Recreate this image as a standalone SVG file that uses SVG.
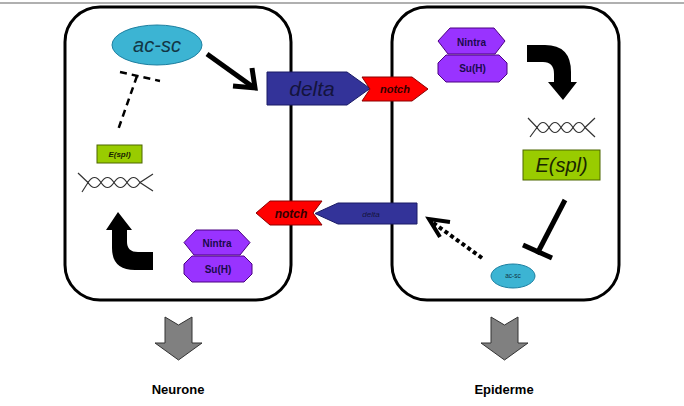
<svg xmlns="http://www.w3.org/2000/svg" width="684" height="406" viewBox="0 0 684 406">
<defs>
<style>
.cell{fill:#fff;stroke:#000;stroke-width:3}
.t{font-family:"Liberation Sans",Arial,sans-serif;text-anchor:middle}
.it{font-style:italic}
.b{font-weight:bold}
.acsc{fill:#3cb4d3;stroke:#1d7fa0;stroke-width:1}
.delta{fill:#333399;stroke:#1a1a66;stroke-width:1}
.notch{fill:#ff0000;stroke:#8b0000;stroke-width:1}
.prot{fill:#9933ff;stroke:#4b0082;stroke-width:1}
.espl{fill:#99cc00;stroke:#4d6600;stroke-width:1}
.dna{fill:none;stroke:#333;stroke-width:1.2}
.curv{fill:#000}
.grey{fill:#808080;stroke:#333;stroke-width:1}
</style>
</defs>
<rect width="684" height="406" fill="#fff"/>
<line x1="0" y1="3" x2="684" y2="3" stroke="#b0b0b0" stroke-width="2"/>

<g id="cell-neurone"><rect class="cell" x="65" y="7" width="226" height="293" rx="35" ry="35"/></g>
<g id="cell-epiderme"><rect class="cell" x="392" y="7" width="227" height="293" rx="35" ry="35"/></g>

<g id="connectors">
<line x1="207" y1="54" x2="253" y2="87" stroke="#000" stroke-width="5"/>
<path d="M233,86 L255,88 L252,68" fill="none" stroke="#000" stroke-width="5" stroke-linejoin="miter"/>
<line x1="120" y1="72" x2="160" y2="81" stroke="#000" stroke-width="2.5" stroke-dasharray="7,5"/>
<line x1="137" y1="76" x2="118" y2="130" stroke="#000" stroke-width="2.5" stroke-dasharray="7,5"/>
<line x1="565" y1="200" x2="537" y2="254" stroke="#000" stroke-width="5"/>
<line x1="523" y1="245" x2="552" y2="258" stroke="#000" stroke-width="5"/>
<line x1="482" y1="258" x2="432" y2="222" stroke="#000" stroke-width="4" stroke-dasharray="4,3"/>
<path d="M450,222 L429,219 L440,237" fill="none" stroke="#000" stroke-width="4"/>
<path class="curv" d="M527,45 L545,45 Q571,45 571,72 L571,82 L577,82 L563,100 L548,82 L554,82 L554,74 Q554,62 543,62 L527,62 Z"/>
<path class="curv" d="M118,212 L132,230 L127,230 L127,242 Q127,252 138,252 L153,252 L153,270 L135,270 Q112,270 112,248 L112,230 L106,230 Z"/>
<path class="grey" d="M165,317 L178.5,325 L192,317 L192,343 L202,343 L178.5,360 L155,343 L165,343 Z"/>
<path class="grey" d="M491,317 L504.5,325 L518,317 L518,343 L528,343 L504.5,360 L481,343 L491,343 Z"/>
</g>

<g id="acsc-left">
<ellipse class="acsc" cx="157" cy="45" rx="45" ry="20"/>
<text class="t it" x="157" y="52" font-size="20" fill="#123645">ac-sc</text>
</g>
<g id="espl-left">
<rect class="espl" x="97" y="145" width="45" height="18"/>
<text class="t it b" x="119.5" y="157" font-size="8" fill="#1a2600">E(spl)</text>
</g>
<g id="dna-left">
<path class="dna" d="M78,173 L88,182.5 Q94.5,172.5 101,182.5 Q107.5,192.5 114,182.5 Q120.5,172.5 127,182.5 Q133.5,192.5 140,182.5 L153,174"/>
<path class="dna" d="M82,192 L88,182.5 Q94.5,192.5 101,182.5 Q107.5,172.5 114,182.5 Q120.5,192.5 127,182.5 Q133.5,172.5 140,182.5 L153,191"/>
</g>
<g id="nintra-left">
<path class="prot" d="M184,242.5 L196,230 L238,230 L250,242.5 L240,255 L194,255 Z"/>
<text class="t b" x="217" y="247" font-size="10" fill="#1a0a4d">Nintra</text>
</g>
<g id="suh-left">
<path class="prot" d="M192,256 L244,256 L252,264 L252,274 L244,282 L192,282 L184,274 L184,264 Z"/>
<text class="t b" x="218" y="273" font-size="10" fill="#1a0a4d">Su(H)</text>
</g>

<g id="delta-top">
<path class="delta" d="M267,72 L347,72 L370,88.5 L347,105 L267,105 Z"/>
<text class="t it" x="312" y="96" font-size="21" fill="#14143d">delta</text>
</g>
<g id="notch-top">
<path class="notch" d="M362,77 L412,77 L428,89 L412,101 L362,101 L370,89 Z"/>
<text class="t it b" x="395" y="93" font-size="11" fill="#330000">notch</text>
</g>
<g id="delta-bottom">
<path class="delta" d="M417,203 L417,224 L338,224 L315,213.5 L338,203 Z"/>
<text class="t it" x="371" y="217" font-size="8" fill="#14143d">delta</text>
</g>
<g id="notch-bottom">
<path class="notch" d="M256,213 L270,201 L322,201 L313,213 L322,225 L270,225 Z"/>
<text class="t it b" x="291" y="217.5" font-size="12" fill="#330000">notch</text>
</g>

<g id="nintra-right">
<path class="prot" d="M438,41 L450,28 L494,28 L505,41 L495,54 L448,54 Z"/>
<text class="t b" x="471.5" y="46" font-size="10" fill="#1a0a4d">Nintra</text>
</g>
<g id="suh-right">
<path class="prot" d="M446,55 L499,55 L507,63 L507,74 L499,82 L446,82 L438,74 L438,63 Z"/>
<text class="t b" x="472.5" y="72" font-size="10" fill="#1a0a4d">Su(H)</text>
</g>
<g id="dna-right">
<path class="dna" d="M528,118 L537,127.5 Q543,117.5 549,127.5 Q555,137.5 561,127.5 Q567,117.5 573,127.5 Q579,137.5 585,127.5 L595,118"/>
<path class="dna" d="M530,137 L537,127.5 Q543,137.5 549,127.5 Q555,117.5 561,127.5 Q567,137.5 573,127.5 Q579,117.5 585,127.5 L595,137"/>
</g>
<g id="espl-right">
<rect class="espl" x="523" y="150" width="77" height="30"/>
<text class="t it" x="561.5" y="172" font-size="20" fill="#1a2600">E(spl)</text>
</g>
<g id="acsc-right">
<ellipse class="acsc" cx="513" cy="276" rx="22" ry="12"/>
<text class="t" x="513" y="278" font-size="6.5" fill="#123645">ac-sc</text>
</g>

<g id="label-neurone"><text class="t b" x="178" y="394" font-size="13" fill="#000">Neurone</text></g>
<g id="label-epiderme"><text class="t b" x="504" y="394" font-size="13" fill="#000">Epiderme</text></g>
</svg>
